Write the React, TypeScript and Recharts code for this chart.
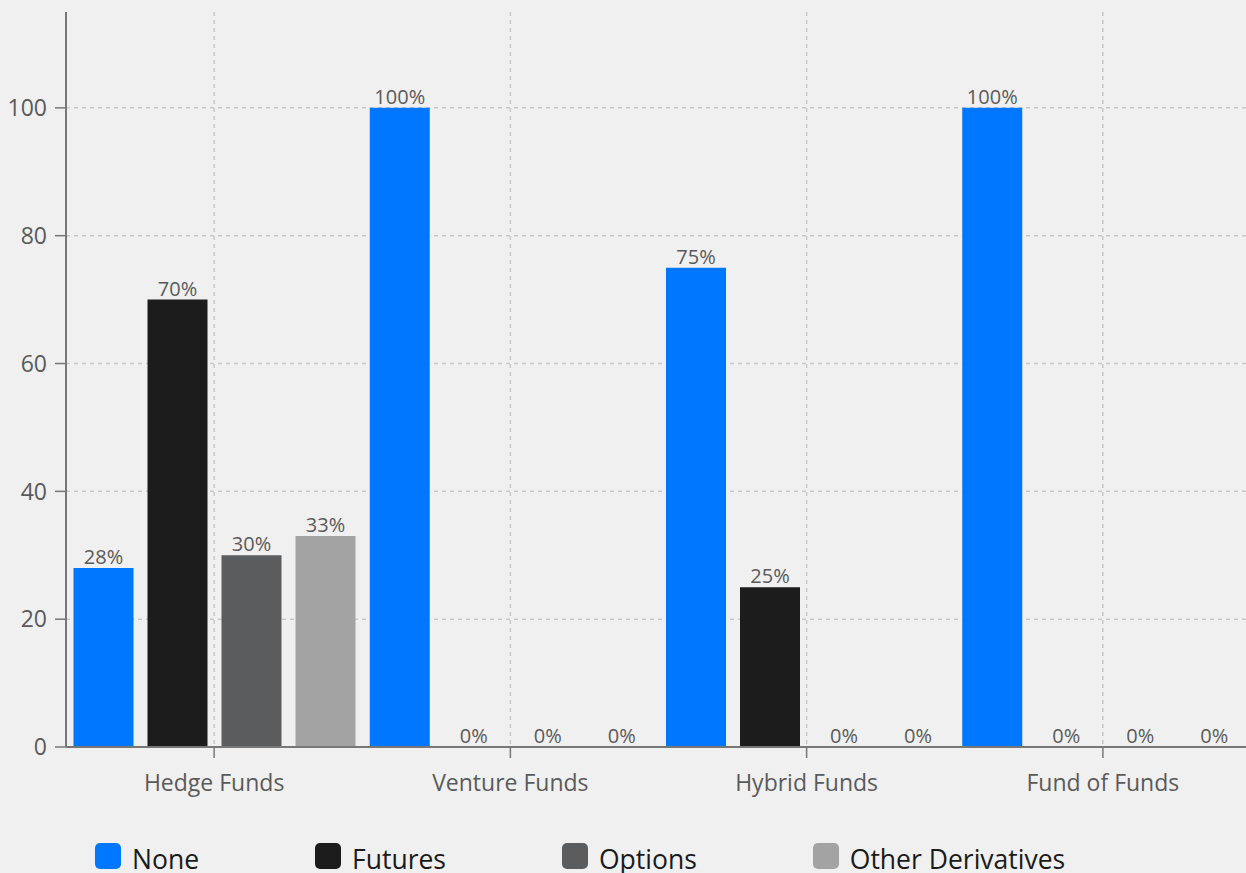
import { BarChart, Bar, XAxis, YAxis, CartesianGrid, Legend, LabelList } from 'recharts';

const categories = ['Hedge Funds', 'Venture Funds', 'Hybrid Funds', 'Fund of Funds'];
const none = [28, 100, 75, 100];
const futures = [70, 0, 25, 0];
const options = [30, 0, 0, 0];
const otherDerivatives = [33, 0, 0, 0];
const yTicks = [0, 20, 40, 60, 80, 100];
const yMax = 115;

const series = [
  { key: 'none', name: 'None', color: '#0077ff', values: none },
  { key: 'futures', name: 'Futures', color: '#1c1c1c', values: futures },
  { key: 'options', name: 'Options', color: '#5b5c5e', values: options },
  { key: 'other', name: 'Other Derivatives', color: '#a3a3a3', values: otherDerivatives },
];

const data = categories.map((name, i) => {
  const row: { [key: string]: string | number } = { name };
  series.forEach((s) => {
    row[s.key] = s.values[i];
  });
  return row;
});

const FONT = '"Open Sans", "Noto Sans", sans-serif';

// grid rows only at the tick values, none at the top edge
const gridRows = ({ yAxis, offset }: any) =>
  yTicks.map((t) => {
    const sc = yAxis && yAxis.scale;
    if (typeof sc === 'function') return sc(t);
    if (sc && typeof sc.map === 'function') return sc.map(t);
    return offset.top + offset.height * (1 - t / yMax);
  });

function LegendContent() {
  return (
    <div style={{ display: 'flex', gap: 116, paddingLeft: 95, paddingTop: 10, fontFamily: FONT }}>
      {series.map((s) => (
        <div key={s.key} style={{ display: 'flex', alignItems: 'flex-start' }}>
          <span
            style={{
              width: 26,
              height: 26,
              borderRadius: 5,
              background: s.color,
              display: 'inline-block',
              marginRight: 11,
            }}
          />
          <span style={{ fontSize: 26.5, color: '#1a1a1a', lineHeight: '30px', marginTop: 1 }}>{s.name}</span>
        </div>
      ))}
    </div>
  );
}

export default function App() {
  return (
    <div
      style={{
        position: 'fixed',
        top: 0,
        left: 0,
        width: 1246,
        height: 873,
        overflow: 'hidden',
        background: '#f0f0f0',
      }}
    >
      <BarChart
        width={1260}
        height={873}
        data={data}
        margin={{ top: 12, right: 9, left: 0, bottom: 0 }}
        barCategoryGap={7.5}
        barGap={14}
      >
        <CartesianGrid
          stroke='#c8c8c8'
          strokeDasharray='4 4'
          strokeWidth={1.5}
          horizontalCoordinatesGenerator={gridRows}
        />
        <XAxis
          dataKey='name'
          height={86}
          tickSize={11}
          tick={{ fontSize: 23, fill: '#5a5a5a', fontFamily: FONT }}
          tickMargin={17}
          axisLine={{ stroke: '#777', strokeWidth: 2 }}
          tickLine={{ stroke: '#777', strokeWidth: 1.5 }}
        />
        <YAxis
          width={66}
          domain={[0, yMax]}
          ticks={yTicks}
          tickSize={11}
          tickMargin={8}
          tick={{ fontSize: 23, fill: '#5a5a5a', fontFamily: FONT }}
          axisLine={{ stroke: '#777', strokeWidth: 2 }}
          tickLine={{ stroke: '#777', strokeWidth: 1.5 }}
        />
        <Legend verticalAlign='bottom' height={40} content={<LegendContent />} />
        {series.map((s) => (
          <Bar
            key={s.key}
            dataKey={s.key}
            name={s.name}
            fill={s.color}
            minPointSize={0.01}
            isAnimationActive={false}
          >
            <LabelList
              dataKey={s.key}
              position='top'
              offset={4}
              formatter={(v: any) => `${v}%`}
              style={{ fontSize: 20, fill: '#5a5a5a', fontFamily: FONT }}
            />
          </Bar>
        ))}
      </BarChart>
    </div>
  );
}
